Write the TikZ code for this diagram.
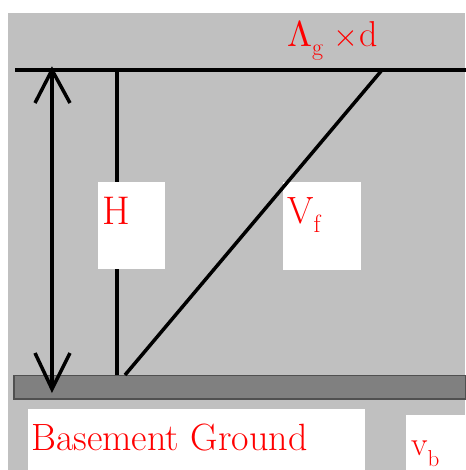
\documentclass[tikz,border=0pt]{standalone}
\usepackage{fontspec}
\usepackage{graphicx}
\definecolor{bggray}{HTML}{C0C0C0}
\definecolor{bargray}{HTML}{808080}
\definecolor{bardark}{HTML}{505050}
\definecolor{txtred}{HTML}{FF0000}
\tikzset{
  blk/.style={draw=black,line width=3.5pt},
  wbox/.style={fill=white,draw=none,inner sep=0pt,outer sep=0pt},
  lbl/.style={text=txtred,inner sep=0pt,anchor=base west},
}
\begin{document}
\begin{tikzpicture}[x=1pt,y=-1pt]
\useasboundingbox (0,0) rectangle (465,470);
\fill[white] (0,0) rectangle (465,470);
\fill[bggray] (8,13) rectangle (465,470);
% ground bar
\filldraw[fill=bargray,draw=bardark,line width=1.5pt] (14,375.5) rectangle (466,399);
% coordinates
\coordinate (vt) at (117,70);
\coordinate (vb) at (117,375);
\coordinate (dtop) at (382,70);
\coordinate (dbot) at (125,375);
\coordinate (tl) at (15,70);
\coordinate (tr) at (466,70);
\coordinate (at) at (52,70);
\coordinate (ab) at (52,389);
\coordinate (atl) at (35,103);
\coordinate (atr) at (70,103);
\coordinate (abl) at (35,353);
\coordinate (abr) at (70,353);
% vertical line
\draw[blk] (vt) -- (vb);
% label boxes
\node[wbox,minimum width=67pt,minimum height=87pt] (hbox) at (131.5,225.5) {};
\node[wbox,minimum width=78pt,minimum height=88pt] (vfbox) at (322,226) {};
% diagonal
\draw[blk] (dbot) -- (dtop);
% top line
\draw[blk] (tl) -- (tr);
% double arrow
\draw[blk] (at) -- (ab);
\draw[blk,line join=miter] (atl) -- (at) -- (atr);
\draw[blk,line join=miter] (abl) -- (ab) -- (abr);
% bottom boxes
\node[wbox,minimum width=337pt,minimum height=62pt] (bgbox) at (196.5,440) {};
\node[wbox,minimum width=60pt,minimum height=56pt] (vbbox) at (436,443) {};
% texts
\node[lbl] (ag) at (287,47) {\fontsize{36}{36}\selectfont \scalebox{3.6}{\normalsize$\Lambda$}\raisebox{-9pt}{\fontsize{24}{24}\selectfont g}\hspace{10pt}\scalebox{3.2}{\normalsize$\times$}\hspace{1pt}d};
\node[lbl] (h) at (102,224) {\fontsize{40}{40}\selectfont H};
\node[lbl] (vf) at (287,223) {\fontsize{38}{38}\selectfont V\raisebox{-9pt}{\fontsize{25}{25}\selectfont f}};
\node[lbl] (bg) at (31,450) {\fontsize{38}{38}\selectfont Basement Ground};
\node[lbl] (vbl) at (411,455) {\fontsize{34}{34}\selectfont v\raisebox{-11pt}{\fontsize{23}{23}\selectfont b}};
\end{tikzpicture}
\end{document}
